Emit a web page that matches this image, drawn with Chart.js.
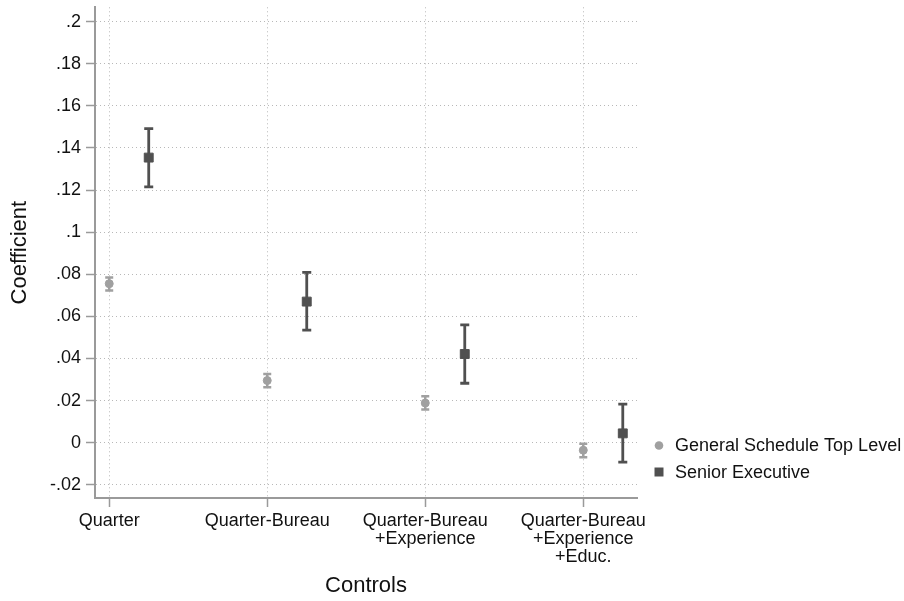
<!DOCTYPE html>
<html>
<head>
<meta charset="utf-8">
<script src="https://cdn.jsdelivr.net/npm/chart.js@4/dist/chart.umd.min.js"></script>
<style>
  html, body { margin: 0; padding: 0; background: #fff; }
  canvas { display: block; }
</style>
</head>
<body>
<canvas id="chart" width="904" height="601"></canvas>
<script>
// Coefficient plot: two series per control set, with confidence intervals.

const categories = [
  ['Quarter'],
  ['Quarter-Bureau'],
  ['Quarter-Bureau', '+Experience'],
  ['Quarter-Bureau', '+Experience', '+Educ.'],
];

const seriesNames = ['General Schedule Top Level', 'Senior Executive'];

const gsCoef = [0.0755, 0.0295, 0.0188, -0.0036];
const gsLow = [0.0723, 0.0263, 0.0157, -0.0070];
const gsHigh = [0.0784, 0.0326, 0.0220, -0.0005];

const seCoef = [0.1354, 0.0670, 0.0421, 0.0044];
const seLow = [0.1215, 0.0534, 0.0282, -0.0093];
const seHigh = [0.1492, 0.0809, 0.0559, 0.0183];

const yTicks = [-0.02, 0, 0.02, 0.04, 0.06, 0.08, 0.1, 0.12, 0.14, 0.16, 0.18, 0.2];

const COLORS = {
  gs: '#a0a0a0',
  se: '#505050',
  axis: '#9a9a9a',
  grid: '#b8b8b8',
  text: '#111111',
};

const FONT = '"Liberation Sans", Arial, Helvetica, sans-serif';
const SE_OFFSET = 0.25;

function fmtTick(v) {
  if (Math.abs(v) < 1e-9) return '0';
  return v.toFixed(2).replace(/0+$/, '').replace(/^(-?)0\./, '$1.');
}

const errorBarsPlugin = {
  id: 'errorBars',
  beforeDatasetsDraw(chart) {
    const { ctx } = chart;
    const xs = chart.scales.x;
    const ys = chart.scales.y;
    ctx.save();
    chart.data.datasets.forEach((ds) => {
      ctx.strokeStyle = ds.barColor;
      ctx.lineWidth = ds.barWidth;
      ctx.lineCap = 'butt';
      ds.data.forEach((pt, i) => {
        const x = xs.getPixelForValue(pt.x);
        const yLo = ys.getPixelForValue(ds.errLow[i]);
        const yHi = ys.getPixelForValue(ds.errHigh[i]);
        const half = ds.capWidth / 2;
        ctx.beginPath();
        ctx.moveTo(x, yLo);
        ctx.lineTo(x, yHi);
        ctx.moveTo(x - half, yLo);
        ctx.lineTo(x + half, yLo);
        ctx.moveTo(x - half, yHi);
        ctx.lineTo(x + half, yHi);
        ctx.stroke();
      });
    });
    ctx.restore();
  },
};

const legendPlugin = {
  id: 'sideLegend',
  afterDraw(chart) {
    const { ctx } = chart;
    const markerX = 659;
    const textX = 675;
    const rows = [445.5, 472];
    ctx.save();
    ctx.font = `18px ${FONT}`;
    ctx.textAlign = 'left';
    ctx.textBaseline = 'middle';
    chart.data.datasets.forEach((ds, i) => {
      const y = rows[i];
      ctx.fillStyle = ds.backgroundColor;
      ctx.beginPath();
      if (ds.pointStyle === 'circle') {
        ctx.arc(markerX, y, 4.3, 0, Math.PI * 2);
      } else {
        ctx.rect(markerX - 4.5, y - 4.5, 9, 9);
      }
      ctx.fill();
      ctx.fillStyle = COLORS.text;
      ctx.fillText(ds.label, textX, y + 1);
    });
    ctx.restore();
  },
};

new Chart(document.getElementById('chart'), {
  type: 'scatter',
  data: {
    datasets: [
      {
        label: seriesNames[0],
        data: gsCoef.map((v, i) => ({ x: i, y: v })),
        errLow: gsLow,
        errHigh: gsHigh,
        barColor: COLORS.gs,
        barWidth: 2.5,
        capWidth: 8,
        pointStyle: 'circle',
        pointRadius: 4,
        borderWidth: 1,
        backgroundColor: COLORS.gs,
        borderColor: COLORS.gs,
      },
      {
        label: seriesNames[1],
        data: seCoef.map((v, i) => ({ x: i + SE_OFFSET, y: v })),
        errLow: seLow,
        errHigh: seHigh,
        barColor: COLORS.se,
        barWidth: 2.8,
        capWidth: 9,
        pointStyle: 'rect',
        pointRadius: 6.3,
        borderWidth: 1,
        backgroundColor: COLORS.se,
        borderColor: COLORS.se,
      },
    ],
  },
  plugins: [errorBarsPlugin, legendPlugin],
  options: {
    responsive: false,
    animation: false,
    layout: { padding: { top: 5, right: 267, left: 0, bottom: 0 } },
    plugins: {
      legend: { display: false },
      tooltip: { enabled: false },
    },
    scales: {
      x: {
        type: 'linear',
        min: -0.09,
        max: 3.34,
        afterBuildTicks(scale) {
          scale.ticks = categories.map((c, i) => ({ value: i }));
        },
        afterFit(scale) {
          scale.height = 103;
          scale.paddingLeft = 0;
          scale.paddingRight = 0;
        },
        ticks: {
          callback: (v) => categories[Math.round(v)],
          autoSkip: false,
          maxRotation: 0,
          padding: 5,
          color: COLORS.text,
          font: { family: FONT, size: 18, lineHeight: 0.99 },
        },
        grid: {
          color: COLORS.grid,
          lineWidth: 1,
          drawTicks: true,
          tickLength: 9,
          tickColor: COLORS.axis,
          tickWidth: 1.5,
          tickBorderDash: [],
        },
        border: { display: true, color: COLORS.axis, width: 2, dash: [1, 3] },
        title: {
          display: true,
          text: 'Controls',
          color: COLORS.text,
          padding: { top: 0, bottom: 2 },
          font: { family: FONT, size: 22 },
        },
      },
      y: {
        type: 'linear',
        min: -0.0263,
        max: 0.2068,
        afterBuildTicks(scale) {
          scale.ticks = yTicks.map((v) => ({ value: v }));
        },
        afterFit(scale) {
          scale.width = 95;
          scale.paddingTop = 0;
          scale.paddingBottom = 0;
        },
        ticks: {
          callback: (v) => fmtTick(v),
          padding: 5,
          color: COLORS.text,
          font: { family: FONT, size: 18 },
        },
        grid: {
          color: COLORS.grid,
          lineWidth: 1,
          drawTicks: true,
          tickLength: 9,
          tickColor: COLORS.axis,
          tickWidth: 1.5,
          tickBorderDash: [],
        },
        border: { display: true, color: COLORS.axis, width: 2, dash: [1, 3] },
        title: {
          display: true,
          text: 'Coefficient',
          color: COLORS.text,
          padding: { top: 7, bottom: 0 },
          font: { family: FONT, size: 22 },
        },
      },
    },
  },
});
</script>
</body>
</html>
